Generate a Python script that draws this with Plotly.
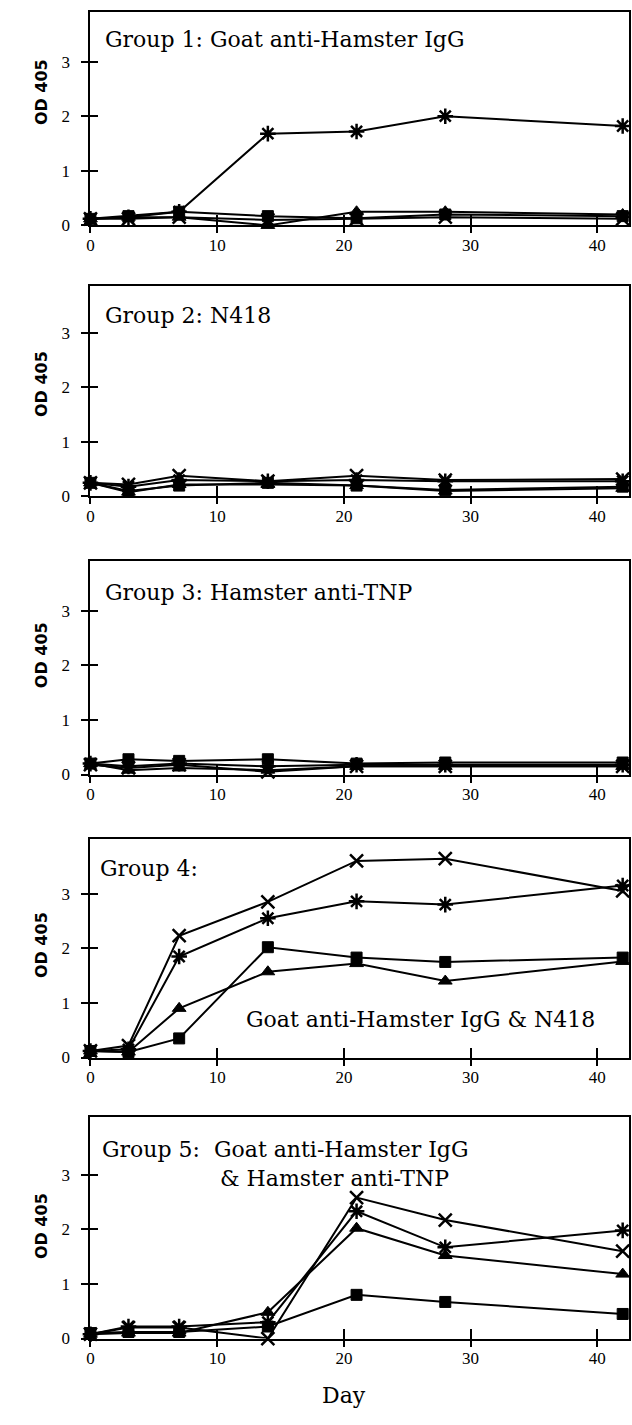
import plotly.graph_objects as go

# ---------------- data ----------------
days = [0, 3, 7, 14, 21, 28, 42]

g1_square   = [0.12, 0.17, 0.25, 0.17, 0.13, 0.20, 0.17]
g1_triangle = [0.12, 0.15, 0.15, 0.00, 0.25, 0.25, 0.20]
g1_cross    = [0.12, 0.12, 0.15, 0.10, 0.12, 0.15, 0.12]
g1_asterisk = [0.12, 0.15, 0.25, 1.68, 1.72, 2.00, 1.82]

g2_square   = [0.25, 0.10, 0.20, 0.25, 0.20, 0.12, 0.18]
g2_triangle = [0.25, 0.08, 0.22, 0.22, 0.20, 0.10, 0.15]
g2_cross    = [0.25, 0.22, 0.38, 0.28, 0.38, 0.30, 0.32]
g2_asterisk = [0.25, 0.18, 0.30, 0.28, 0.30, 0.28, 0.28]

g3_square   = [0.20, 0.28, 0.25, 0.28, 0.20, 0.22, 0.22]
g3_triangle = [0.20, 0.08, 0.12, 0.08, 0.15, 0.15, 0.15]
g3_cross    = [0.18, 0.12, 0.18, 0.05, 0.15, 0.15, 0.15]
g3_asterisk = [0.20, 0.15, 0.20, 0.15, 0.18, 0.18, 0.18]

g4_square   = [0.12, 0.10, 0.35, 2.02, 1.83, 1.75, 1.83]
g4_triangle = [0.12, 0.10, 0.90, 1.57, 1.72, 1.40, 1.76]
g4_cross    = [0.12, 0.22, 2.23, 2.85, 3.60, 3.64, 3.05]
g4_asterisk = [0.12, 0.15, 1.85, 2.55, 2.86, 2.80, 3.15]

g5_square   = [0.10, 0.12, 0.12, 0.22, 0.80, 0.67, 0.45]
g5_triangle = [0.08, 0.10, 0.10, 0.48, 2.02, 1.52, 1.18]
g5_cross    = [0.08, 0.20, 0.20, 0.00, 2.58, 2.17, 1.60]
g5_asterisk = [0.08, 0.22, 0.22, 0.30, 2.33, 1.67, 1.98]

groups = [
    (g1_square, g1_triangle, g1_cross, g1_asterisk),
    (g2_square, g2_triangle, g2_cross, g2_asterisk),
    (g3_square, g3_triangle, g3_cross, g3_asterisk),
    (g4_square, g4_triangle, g4_cross, g4_asterisk),
    (g5_square, g5_triangle, g5_cross, g5_asterisk),
]

x_ticks = [0, 10, 20, 30, 40]
y_ticks = [0, 1, 2, 3]
y_title = "OD 405"
x_title = "Day"

# ---------------- layout geometry (pixels) ----------------
W, H = 632, 1425
x_left, x_right = 87, 629
x_max = 42.5
panels_px = [(12, 227), (288, 500), (565, 780), (845, 1065), (1125, 1348)]
ytitle_px = [93, 387, 660, 952, 1235]
px_per_unit = 55.0

SERIF = "DejaVu Serif"
TICKSERIF = "Liberation Serif"
SANS = "DejaVu Sans"

styles = [
    dict(symbol="square", size=11, color="black", line=dict(color="black", width=1)),
    dict(symbol="triangle-up", size=12, color="black", line=dict(color="black", width=1)),
    dict(symbol="x-thin", size=13, color="black", line=dict(color="black", width=2.5)),
    dict(symbol="asterisk", size=13, color="black", line=dict(color="black", width=2.5)),
]

fig = go.Figure()

for i, series in enumerate(groups):
    k = i + 1
    xa = "x" if k == 1 else f"x{k}"
    ya = "y" if k == 1 else f"y{k}"
    for s, st in zip(series, styles):
        fig.add_trace(go.Scatter(
            x=days, y=s, mode="lines+markers", xaxis=xa, yaxis=ya,
            line=dict(color="black", width=2), marker=st,
            cliponaxis=False, showlegend=False, hoverinfo="skip"))
    # empty trace registering the overlay axes that draw the outer half of crossing ticks
    fig.add_trace(go.Scatter(x=[], y=[], xaxis=f"x{k+5}", yaxis=f"y{k+5}",
                             showlegend=False, hoverinfo="skip"))

layout = dict(
    width=W, height=H, margin=dict(l=0, r=0, t=0, b=0),
    paper_bgcolor="white", plot_bgcolor="white", showlegend=False,
)
annotations = []
for i, (top, bot) in enumerate(panels_px):
    k = i + 1
    xkey = "xaxis" if k == 1 else f"xaxis{k}"
    ykey = "yaxis" if k == 1 else f"yaxis{k}"
    xa = "x" if k == 1 else f"x{k}"
    ya = "y" if k == 1 else f"y{k}"
    ymax = (bot - top) / px_per_unit
    xdom = [x_left / W, x_right / W]
    ydom = [1 - bot / H, 1 - top / H]
    layout[xkey] = dict(
        domain=xdom, anchor=ya, range=[0, x_max],
        tickvals=x_ticks, ticks="inside", ticklen=10, tickwidth=2, tickcolor="black",
        showgrid=False, zeroline=False, ticklabelstandoff=3,
        showline=True, linecolor="black", linewidth=2, mirror=True,
        tickfont=dict(family=TICKSERIF, size=17, color="black"),
    )
    layout[ykey] = dict(
        domain=ydom, anchor=xa, range=[0, ymax],
        tickvals=y_ticks, ticks="inside", ticklen=8, tickwidth=2, tickcolor="black",
        showgrid=False, zeroline=False, ticklabelstandoff=15,
        showline=True, linecolor="black", linewidth=2, mirror=True,
        tickfont=dict(family=TICKSERIF, size=17, color="black"),
    )
    layout[f"xaxis{k+5}"] = dict(
        overlaying=xa, anchor=ya, domain=xdom, range=[0, x_max], side="bottom",
        tickvals=x_ticks, ticks="outside", ticklen=7, tickwidth=2, tickcolor="black",
        showticklabels=False, showgrid=False, zeroline=False, showline=False,
    )
    layout[f"yaxis{k+5}"] = dict(
        overlaying=ya, anchor=xa, domain=ydom, range=[0, ymax], side="left",
        tickvals=y_ticks, ticks="outside", ticklen=8, tickwidth=2, tickcolor="black",
        showticklabels=False, showgrid=False, zeroline=False, showline=False,
    )
    annotations.append(dict(text=f"<b>{y_title}</b>", xref="paper", yref="paper",
                            x=38 / W, y=1 - ytitle_px[i] / H, textangle=-90, showarrow=False,
                            xanchor="center", yanchor="middle",
                            font=dict(family=SANS, size=16, color="black")))

titles = [
    ("Group 1: Goat anti-Hamster IgG", 100, 40),
    ("Group 2: N418", 100, 318),
    ("Group 3: Hamster anti-TNP", 100, 597),
    ("Group 4:", 95, 875),
    ("Goat anti-Hamster IgG &amp; N418", 242, 1027),
    ("Group 5:  Goat anti-Hamster IgG", 97, 1158),
    ("&amp; Hamster anti-TNP", 215, 1187),
]
for txt, px, py in titles:
    annotations.append(dict(text=txt, xref="paper", yref="paper", x=px / W, y=1 - py / H,
                            xanchor="left", yanchor="middle", showarrow=False,
                            font=dict(family=SERIF, size=22, color="black")))

annotations.append(dict(text=x_title, xref="paper", yref="paper", x=342 / W, y=1 - 1405 / H,
                        xanchor="center", yanchor="middle", showarrow=False,
                        font=dict(family=SERIF, size=22, color="black")))

layout["annotations"] = annotations
fig.update_layout(**layout)
fig.write_html("out.html")
